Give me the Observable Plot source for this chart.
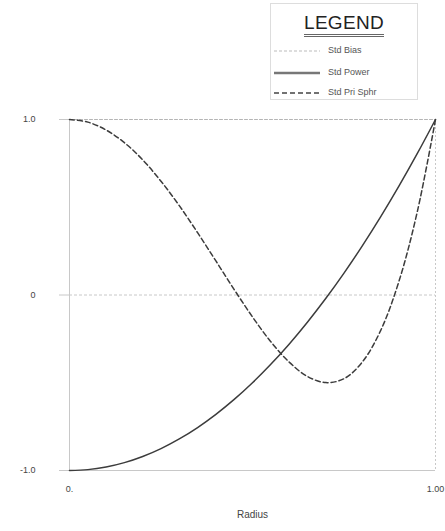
<!DOCTYPE html>
<html>
<head>
<meta charset="utf-8">
<script src="https://cdn.jsdelivr.net/npm/d3@7"></script>
<script src="https://cdn.jsdelivr.net/npm/@observablehq/plot@0.6"></script>
<style>
  html, body { margin: 0; padding: 0; background: #fff; }
  #wrap { position: relative; width: 445px; height: 531px; font-family: "Liberation Sans", Arial, sans-serif; }
  #legend { position: absolute; left: 270px; top: 3px; width: 148px; height: 97px; border: 1px solid #ddd; box-sizing: border-box; background: #fff; }
  #legend .title { position: absolute; left: 0; width: 100%; top: 8px; text-align: center; font-size: 19px; color: #222; letter-spacing: 0.3px; }
  #legend .ul { position: absolute; left: 33px; width: 80px; top: 30px; height: 0; border-top: 3px double #666; }
  #legend .item { position: absolute; left: 3px; font-size: 9px; color: #555; height: 12px; line-height: 12px; }
  #legend .item svg { vertical-align: middle; margin-right: 8px; }
</style>
</head>
<body>
<div id="wrap">
  <div id="chart"></div>
  <div id="legend"></div>
</div>
<script>
// Radius samples and values
const radius  = [0, 0.05, 0.1, 0.15, 0.2, 0.25, 0.3, 0.35, 0.4, 0.45, 0.5, 0.55, 0.6, 0.65, 0.7, 0.75, 0.8, 0.85, 0.9, 0.95, 1.0];
const stdPower = [-1.0, -0.995, -0.98, -0.955, -0.92, -0.875, -0.82, -0.755, -0.68, -0.595, -0.5, -0.395, -0.28, -0.155, -0.02, 0.125, 0.28, 0.445, 0.62, 0.805, 1.0];
const stdPriSphr = [1.0, 0.985, 0.94, 0.868, 0.77, 0.648, 0.509, 0.355, 0.194, 0.031, -0.125, -0.266, -0.382, -0.464, -0.499, -0.477, -0.382, -0.203, 0.077, 0.472, 1.0];
const biasRadius = [0, 1];
const stdBias = [1.0, 1.0];

const seriesNames = ["Std Bias", "Std Power", "Std Pri Sphr"];
const yTicks = [1, 0, -1];
const yTickLabels = ["1.0", "0", "-1.0"];
const xTicks = [0, 1];
const xTickLabels = ["0.", "1.00"];
const xLabel = "Radius";
const legendTitle = "LEGEND";

const powerData = radius.map((r, i) => ({r, v: stdPower[i]}));
const sphrData = radius.map((r, i) => ({r, v: stdPriSphr[i]}));
const biasData = biasRadius.map((r, i) => ({r, v: stdBias[i]}));

const styles = {
  "Std Bias": {stroke: "#b5b5b5", strokeWidth: 1, dash: "3,2", legendStroke: "#bbb", legendWidth: 1},
  "Std Power": {stroke: "#3c3c3c", strokeWidth: 1.5, dash: null, legendStroke: "#777", legendWidth: 2.5},
  "Std Pri Sphr": {stroke: "#3c3c3c", strokeWidth: 1.5, dash: "5,3", legendStroke: "#444", legendWidth: 1.5}
};

const chart = Plot.plot({
  width: 445,
  height: 531,
  marginLeft: 69,
  marginRight: 10,
  marginTop: 119,
  marginBottom: 61,
  style: {fontFamily: "'Liberation Sans', Arial, sans-serif", fontSize: "9px", color: "#333", background: "transparent"},
  x: {domain: [0, 1]},
  y: {domain: [-1, 1]},
  marks: [
    Plot.axisY({ticks: yTicks, tickFormat: (d) => yTickLabels[yTicks.indexOf(d)], tickSize: 10, tickPadding: 24, stroke: "#c8c8c8", fill: "#444", label: null}),
    Plot.axisX({ticks: xTicks, tickFormat: (d) => xTickLabels[xTicks.indexOf(d)], tickSize: 0, tickPadding: 15, fill: "#444", label: null}),
    Plot.ruleX([0], {stroke: "#c8c8c8"}),
    Plot.ruleX([1], {stroke: "#c8c8c8", strokeDasharray: "2,2"}),
    Plot.ruleY([0], {stroke: "#c8c8c8", strokeDasharray: "3,2"}),
    Plot.ruleY([-1], {stroke: "#c8c8c8"}),
    Plot.line(biasData, {x: "r", y: "v", stroke: styles["Std Bias"].stroke, strokeWidth: styles["Std Bias"].strokeWidth, strokeDasharray: styles["Std Bias"].dash}),
    Plot.line(powerData, {x: "r", y: "v", curve: "catmull-rom", stroke: styles["Std Power"].stroke, strokeWidth: styles["Std Power"].strokeWidth}),
    Plot.line(sphrData, {x: "r", y: "v", curve: "catmull-rom", stroke: styles["Std Pri Sphr"].stroke, strokeWidth: styles["Std Pri Sphr"].strokeWidth, strokeDasharray: styles["Std Pri Sphr"].dash}),
    Plot.text([xLabel], {frameAnchor: "bottom", dy: 47, fontSize: 10, fill: "#444"})
  ]
});
document.getElementById("chart").appendChild(chart);

// Legend
const legend = document.getElementById("legend");
legend.innerHTML = `<div class="title">${legendTitle}</div><div class="ul"></div>`;
const itemTops = [40, 62, 82];
seriesNames.forEach((name, i) => {
  const s = styles[name];
  const div = document.createElement("div");
  div.className = "item";
  div.style.top = itemTops[i] + "px";
  div.innerHTML = `<svg width="46" height="6"><line x1="0" x2="46" y1="3" y2="3" stroke="${s.legendStroke}" stroke-width="${s.legendWidth}" ${s.dash ? `stroke-dasharray="${s.dash}"` : ""}/></svg>${name}`;
  legend.appendChild(div);
});
</script>
</body>
</html>
